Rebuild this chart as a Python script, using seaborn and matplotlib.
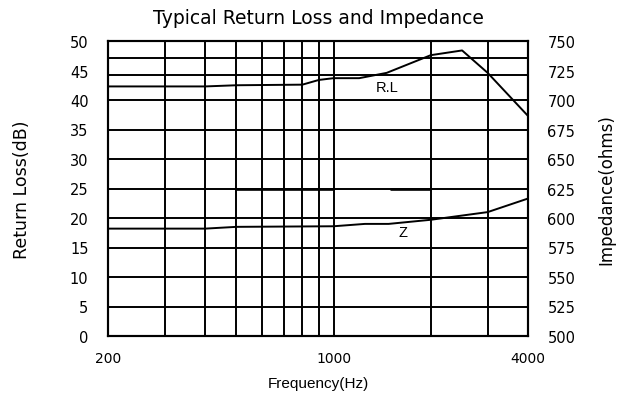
import numpy as np
import pandas as pd
import seaborn as sns
import matplotlib
matplotlib.use("Agg")
import matplotlib.pyplot as plt
from matplotlib.ticker import NullLocator

# ---- data ----
rl_freq = [200, 400, 500, 800, 900, 1000, 1200, 1460, 2000, 2500, 3000, 4000]
rl_db = [42.3, 42.3, 42.5, 42.6, 43.4, 43.7, 43.7, 44.6, 47.6, 48.4, 44.6, 37.3]
z_freq = [200, 400, 500, 1000, 1250, 1480, 2000, 3000, 4000]
z_ohm = [591, 591, 592.5, 593, 595, 595, 598.5, 605, 616.5]

x_ticks = [200, 1000, 4000]
x_tick_labels = ["200", "1000", "4000"]
left_ticks = [0, 5, 10, 15, 20, 25, 30, 35, 40, 45, 50]
right_ticks = [500, 525, 550, 575, 600, 625, 650, 675, 700, 725, 750]
v_grid = [300, 400, 500, 600, 700, 800, 900, 1000, 2000, 3000]
h_grid = [5, 10, 15, 20, 25, 30, 35, 40, 44.2, 47.2]
thick_y = 25
thick_from = [500, 1500]
thick_to = [1000, 2000]

sns.set_style("white")
plt.rcParams['font.family'] = ['DejaVu Sans']
plt.rcParams['text.color'] = 'black'
plt.rcParams['xtick.color'] = 'black'
plt.rcParams['ytick.color'] = 'black'
plt.rcParams['axes.labelcolor'] = 'black'

W, H = 628, 410
fig = plt.figure(figsize=(W / 100, H / 100), dpi=100)
ax = fig.add_axes([108 / W, 1 - 337 / H, 420 / W, 295 / H])
ax.set_xscale('log')
ax.set_xlim(200, 4000)
ax.set_ylim(0, 50)
ax2 = ax.twinx()
ax2.set_ylim(500, 750)

for f in v_grid:
    ax.axvline(f, color='black', lw=1.4, zorder=1)
for g in h_grid:
    ax.axhline(g, color='black', lw=1.4, zorder=1)
ax.hlines([thick_y] * len(thick_from), thick_from, thick_to, color='black',
          lw=1.9, zorder=1)

df_rl = pd.DataFrame({"freq": rl_freq, "rl": rl_db})
df_z = pd.DataFrame({"freq": z_freq, "z": z_ohm})
sns.lineplot(data=df_rl, x="freq", y="rl", ax=ax, color='black', lw=1.4, zorder=3)
sns.lineplot(data=df_z, x="freq", y="z", ax=ax2, color='black', lw=1.4, zorder=3)

ax.set_xticks(x_ticks)
ax.set_xticklabels(x_tick_labels)
ax.xaxis.set_minor_locator(NullLocator())
ax.set_yticks(left_ticks)
ax2.set_yticks(right_ticks)
ax.set_xlabel("")
ax.set_ylabel("")
ax2.set_ylabel("")
ax.tick_params(axis='x', length=0, pad=11, labelsize=10, labelcolor='black')
ax.tick_params(axis='y', length=0, pad=14, labelsize=10.5, labelcolor='black')
ax2.tick_params(axis='y', length=0, pad=14, labelsize=10.5, labelcolor='black')

for a in (ax, ax2):
    for s in a.spines.values():
        s.set_visible(True)
        s.set_color('black')
        s.set_linewidth(1.5)

ax.text(1460, 42.2, "R.L", ha='center', va='center', fontsize=10.5,
        family='Liberation Sans', color='black', zorder=4)
ax.text(1640, 17.6, "Z", ha='center', va='center', fontsize=10.5,
        family='Liberation Sans', color='black', zorder=4)

fig.text(318 / W, 1 - 18 / H, "Typical Return Loss and Impedance",
         ha='center', va='center', fontsize=13.5, color='black')
fig.text(318 / W, 1 - 384 / H, "Frequency(Hz)", ha='center', va='center',
         fontsize=11, family='Liberation Sans', color='black')
fig.text(22 / W, 1 - 190 / H, "Return Loss(dB)", ha='center', va='center',
         rotation=90, fontsize=12.5, color='black')
fig.text(606 / W, 1 - 190 / H, "Impedance(ohms)", ha='center', va='center',
         rotation=90, fontsize=12, color='black')

fig.savefig("out.png", dpi=100)
